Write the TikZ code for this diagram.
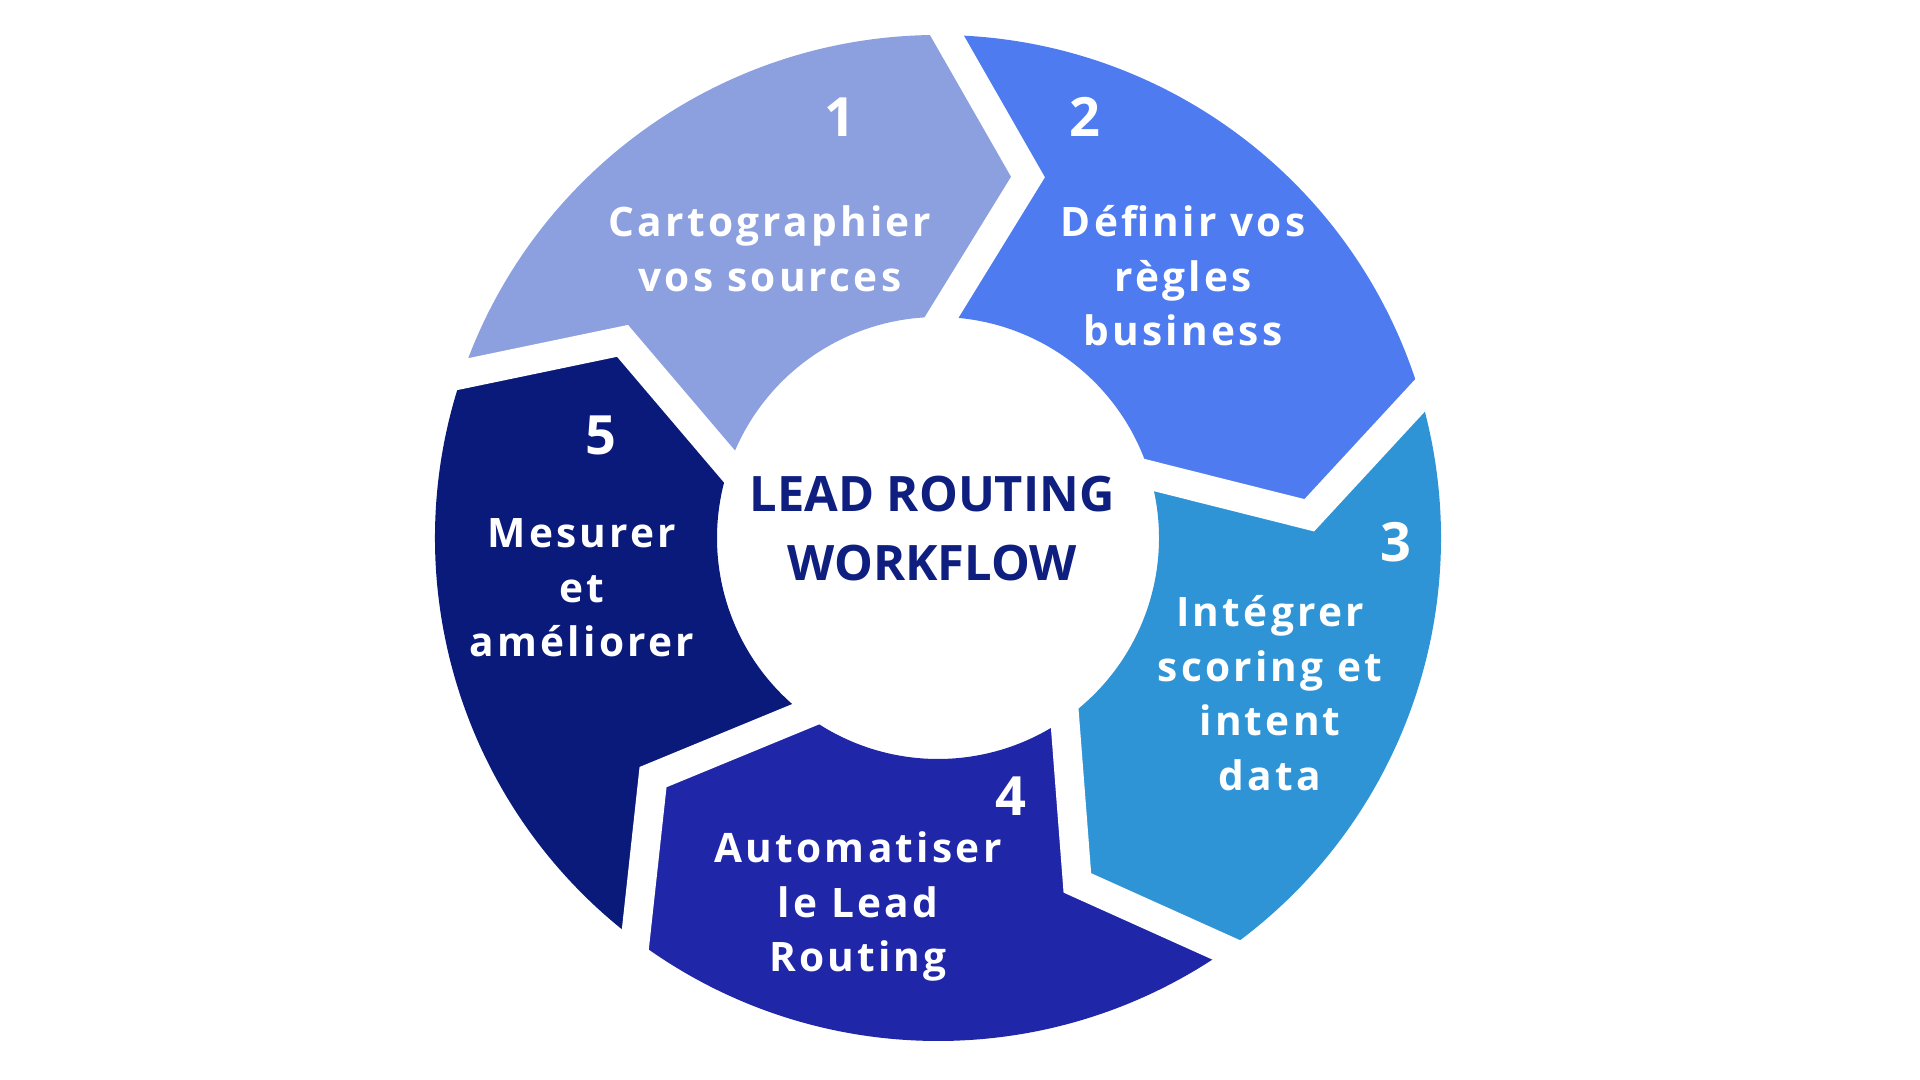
\documentclass[tikz,border=0pt]{standalone}
\usepackage{fontspec}
\setmainfont{Open Sans}
\newfontfamily\lblfont{Open Sans}[LetterSpace=8]
\usetikzlibrary{calc}
\definecolor{cone}{HTML}{8C9FDE}
\definecolor{ctwo}{HTML}{4E7CF0}
\definecolor{cthree}{HTML}{2E94D6}
\definecolor{cfour}{HTML}{1F27A8}
\definecolor{cfive}{HTML}{0A1A7B}
\definecolor{ctext}{HTML}{0E1F7F}
\newcommand\mlines[1]{\begin{tabular}[t]{@{}c@{}}#1\end{tabular}}
\tikzset{
  gapline/.style={draw=white, line width=0.29cm, line join=miter, miter limit=20},
  lbl/.style={text=white, inner sep=0pt, anchor=base, font=\lblfont\bfseries\fontsize{11.55}{15.5}\selectfont},
  num/.style={text=white, inner sep=0pt, anchor=center, font=\bfseries\fontsize{15.4}{18}\selectfont},
  ctr/.style={text=ctext, inner sep=0pt, anchor=base, font=\bfseries\fontsize{13.9}{19.6}\selectfont}
}
\begin{document}
\begin{tikzpicture}
\useasboundingbox (0,0) rectangle (19.2,10.8);
\fill[white] (0,0) rectangle (19.2,10.8);
\begin{scope}[shift={(9.38,5.42)}]
\def\Rout{5.03}\def\Rin{2.21}\def\Rtip{3.72}\def\Doff{13}
\foreach \s/\c in {161/cone, 89/ctwo, 16.5/cthree, -55/cfour, -127/cfive} {
  \pgfmathsetmacro\e{\s-72}
  \ifdim\s pt=89pt \def\e{16.5}\fi
  \ifdim\s pt=16.5pt \def\e{-55}\fi
  \pgfmathsetmacro\etip{\e-\Doff}
  \pgfmathsetmacro\stip{\s-\Doff}
  \fill[\c] (\s:\Rout) arc[start angle=\s, end angle=\e, radius=\Rout]
     -- (\etip:\Rtip) -- (\e:\Rin) arc[start angle=\e, end angle=\s, radius=\Rin]
     -- (\stip:\Rtip) -- cycle;
}
\foreach \b in {89,16.5,-55,-127,-199} {
  \pgfmathsetmacro\btip{\b-\Doff}
  \draw[gapline] ($(\btip:\Rtip)!1.3!(\b:\Rout)$) -- (\btip:\Rtip) -- ($(\btip:\Rtip)!1.3!(\b:\Rin)$);
}
\end{scope}
\node[num] (n1) at (8.40,9.63) {1};
\node[num] (n2) at (10.85,9.63) {2};
\node[num] (n3) at (13.96,5.38) {3};
\node[num] (n4) at (10.11,2.84) {4};
\node[num] (n5) at (6.01,6.45) {5};
\node[lbl] (t1) at (7.70,8.43) {\mlines{Cartographier\\vos sources}};
\node[lbl] (t2) at (11.83,8.43) {\mlines{Définir vos\\règles\\business}};
\node[lbl] (t3) at (12.70,4.53) {\mlines{Intégrer\\scoring et\\intent\\data}};
\node[lbl] (t4) at (8.58,2.17) {\mlines{Automatiser\\le Lead\\Routing}};
\node[lbl] (t5) at (5.82,5.32) {\mlines{Mesurer\\et\\améliorer}};
\node[ctr] (c) at (9.32,5.68) {\mlines{LEAD ROUTING\\WORKFLOW}};
\end{tikzpicture}
\end{document}
